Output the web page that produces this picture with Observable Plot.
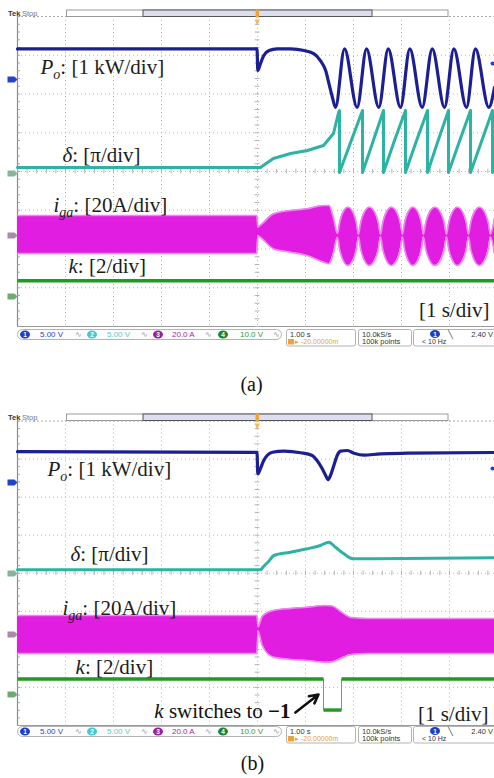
<!DOCTYPE html>
<html>
<head>
<meta charset="utf-8">
<script src="https://cdn.jsdelivr.net/npm/d3@7"></script>
<script src="https://cdn.jsdelivr.net/npm/@observablehq/plot@0.6"></script>
<style>
html,body{margin:0;padding:0;background:#fff;}
#root{position:relative;width:494px;height:778px;overflow:hidden;background:#fff;}
#root svg{position:absolute;left:0;}
</style>
</head>
<body>
<div id="root"></div>
<script>
// ================= DATA =================
// time in seconds (1 s/div), trigger at t = 0
const timeDomain = [-5, 4.9375];
// scope vertical scales (units per division)
const channelScale = {p: 1, d: 1, i: 20, k: 2.45};

// ---------- panel (a) ----------
// P_o  [kW]
const poA = [
 [-5,0.79],[-0.01,0.79],[0.006,0.232],[0.06,0.405],[0.13,0.62],[0.24,0.749],[0.41,0.792],[0.69,0.792],
 [0.97,0.749],[1.18,0.663],[1.31,0.489],[1.42,0.232],[1.49,-0.111],[1.56,-0.457],[1.625,-0.72],
 [1.8125,0.79],[2.076,-0.72],[2.271,0.79],[2.527,-0.72],[2.723,0.79],[2.979,-0.72],[3.173,0.79],
 [3.431,-0.72],[3.64,0.79],[3.896,-0.72],[4.09,0.79],[4.354,-0.72],[4.54,0.79],[4.819,-0.72],[4.9375,-0.2]
];
// delta [pi]
const deltaA = [
 [-5,0.155],[0.06,0.155],[0.33,0.387],[0.69,0.516],[1.04,0.594],[1.375,0.723],[1.583,1.033],[1.69,1.578],[1.708,1.626],
 [1.708,0.026],[1.95,0.84],[2.188,1.626],[2.188,0.026],[2.41,0.84],[2.625,1.626],[2.625,0.026],[2.85,0.84],
 [3.083,1.626],[3.083,0.026],[3.31,0.84],[3.542,1.626],[3.542,0.026],[3.76,0.84],[3.979,1.626],[3.979,0.026],
 [4.21,0.84],[4.438,1.626],[4.438,0.026],[4.67,0.84],[4.896,1.626],[4.896,0.026],[4.9375,0.15]
];
// i_ga envelope [t, upper A, lower A]
const igaA = [
 [-5,10.3,-9.3],[-0.01,10.3,-9.3],[0.006,4.3,0],[0.06,5.2,-0.9],[0.34,11.2,-6.9],[0.69,12.9,-8.6],[1.035,13.8,-10.3],
 [1.38,15.5,-13.8],[1.49,15.5,-14.6],[1.58,9.4,-9.3],[1.667,1.0,-0.9],
 [1.711,6.6,-7.0],[1.776,11.7,-12.4],[1.886,14.6,-15.5],[1.995,11.7,-12.4],[2.060,6.6,-7.0],[2.104,0.6,-0.6],
 [2.150,6.6,-7.0],[2.219,11.7,-12.4],[2.334,14.6,-15.5],[2.448,11.7,-12.4],[2.517,6.6,-7.0],[2.563,0.6,-0.6],
 [2.609,6.6,-7.0],[2.678,11.7,-12.4],[2.792,14.6,-15.5],[2.907,11.7,-12.4],[2.975,6.6,-7.0],[3.021,0.6,-0.6],
 [3.065,6.6,-7.0],[3.130,11.7,-12.4],[3.240,14.6,-15.5],[3.349,11.7,-12.4],[3.414,6.6,-7.0],[3.458,0.6,-0.6],
 [3.506,6.6,-7.0],[3.578,11.7,-12.4],[3.698,14.6,-15.5],[3.818,11.7,-12.4],[3.890,6.6,-7.0],[3.938,0.6,-0.6],
 [3.984,6.6,-7.0],[4.053,11.7,-12.4],[4.167,14.6,-15.5],[4.282,11.7,-12.4],[4.350,6.6,-7.0],[4.396,0.6,-0.6],
 [4.442,6.6,-7.0],[4.511,11.7,-12.4],[4.625,14.6,-15.5],[4.740,11.7,-12.4],[4.808,6.6,-7.0],[4.854,0.6,-0.6],
 [4.9375,9.0,-9.5]
];
// k
const kA = [[-5,1],[4.9375,1]];

// ---------- panel (b) ----------
const poB = [
 [-5,0.81],[-0.01,0.79],[0.006,0.229],[0.06,0.36],[0.13,0.578],[0.2,0.71],[0.31,0.796],[0.55,0.823],[0.9,0.781],
 [1.14,0.71],[1.24,0.578],[1.35,0.36],[1.42,0.184],[1.47,0.071],[1.52,0.184],[1.59,0.447],[1.66,0.71],[1.73,0.823],
 [1.87,0.841],[2.01,0.77],[2.22,0.718],[2.56,0.754],[3.12,0.77],[4.9375,0.789]
];
const deltaB = [
 [-5,0.098],[0.06,0.10],[0.125,0.184],[0.23,0.316],[0.34,0.473],[0.69,0.560],[1.035,0.649],[1.31,0.736],
 [1.485,0.823],[1.625,0.691],[1.8,0.518],[2.0,0.387],[2.42,0.387],[4.9375,0.413]
];
const igaB = [
 [-5,10.0,-10.0],[-0.01,10.0,-10.0],[0.01,4.0,2.0],[0.1,9.5,-5.8],[0.33,12.6,-11.9],[0.7,13.7,-13.1],[1.04,14.3,-13.7],
 [1.4,15.2,-14.6],[1.55,15.0,-14.4],[1.73,12.1,-12.6],[1.95,8.9,-10.5],[2.3,8.4,-10.0],[4.9375,8.4,-10.0]
];
const kB = [[-5,1],[1.375,1],[1.375,-1],[1.75,-1],[1.75,1],[4.9375,1]];

// channel ground markers (divisions from screen centre) and trigger-level marker (div above ch1)
const channelsA = {p: 2.374, d: -0.052, i: -1.652, k: -3.226, trig: 0.41};
const channelsB = {p: 2.384, d: -0.007, i: -1.609, k: -3.186, trig: 0.37};

// trace labels
const labelsA = [
 {t:-4.521, y:2.529, s:"Po: [1 kW/div]"},
 {t:-4.0625, y:0.258, s:"δ: [π/div]"},
 {t:-4.25, y:-1.058, s:"iga: [20A/div]"},
 {t:-3.9375, y:-2.632, s:"k: [2/div]"}
];
const labelsB = [
 {t:-4.375, y:2.542, s:"Po: [1 kW/div]"},
 {t:-3.896, y:0.309, s:"δ: [π/div]"},
 {t:-4.0625, y:-1.084, s:"iga: [20A/div]"},
 {t:-3.79, y:-2.634, s:"k: [2/div]"}
];
const scaleLabelA = [{t:4.833, y:-3.742, s:"[1 s/div]"}];
const scaleLabelB = [{t:4.8125, y:-3.869, s:"[1 s/div]"}];
const noteB = [{t:0.6875, y:-3.816, s:"k switches to −1"}];
const arrowB = [{t1:0.79, y1:-3.659, t2:1.27, y2:-3.186}];

const statusChannels = [
 {n:"1", v:"5.00 V", chip:"#1c3fc8", col:"#2b48c4"},
 {n:"2", v:"5.00 V", chip:"#43c8d0", col:"#62cccc"},
 {n:"3", v:"20.0 A", chip:"#9c1c9c", col:"#a52ba2"},
 {n:"4", v:"10.0 V", chip:"#14893a", col:"#3a9a3a"}
];
const statusInfo = {timebase:"1.00 s", delay:"-20.00000m", rate:"10.0kS/s", points:"100k points", trig:"2.40 V", freq:"< 10 Hz"};

// ================= DRAWING =================
const SERIF = '"Liberation Serif", "Times New Roman", Times, "DejaVu Serif", serif';
const gridT = d3.range(-4, 5);
const gridY = d3.range(-3, 4);
const minorT = d3.range(-5, 4.95, 0.2);
const minorY = d3.range(-4, 4.01, 0.2);
const tabSymbol = {draw(ctx){ctx.moveTo(-5,-3);ctx.lineTo(2,-3);ctx.lineTo(5,0);ctx.lineTo(2,3);ctx.lineTo(-5,3);ctx.closePath();}};

function panel(cfg) {
  const ch = cfg.ch, S = channelScale;
  const kSegs = d3.pairs(cfg.k);
  const kFlat = kSegs.filter(([a,b]) => a[1] === b[1]);
  const kEdge = kSegs.filter(([a,b]) => a[1] !== b[1]);
  const markers = [
    {y: ch.p, c: "#2343c9"}, {y: ch.d, c: "#88b49c"}, {y: ch.i, c: "#a98aa9"}, {y: ch.k, c: "#72a872"}
  ];
  const marks = [
    Plot.ruleX(gridT, {stroke:"#b9b9b9", strokeDasharray:"1,3"}),
    Plot.ruleY(gridY, {stroke:"#b9b9b9", strokeDasharray:"1,3"}),
    Plot.ruleY([4], {stroke:"#a8a8a8", strokeDasharray:"2,2"}),
    Plot.ruleY([-4], {stroke:"#9a9a9a"}),
    Plot.ruleX([-5], {stroke:"#8a8a8a", strokeWidth:1.2}),
    Plot.ruleX(minorT, {y1:-0.06, y2:0.06, stroke:"#b4b4b4"}),
    Plot.ruleY(minorY, {x1:-0.05, x2:0.05, stroke:"#b4b4b4"}),
    Plot.ruleY(minorY, {x1:-5, x2:-4.94, stroke:"#a0a0a0"}),
    // i_ga envelope
    Plot.areaY(cfg.iga, {x: d=>d[0], y1: d=>ch.i + d[2]/S.i, y2: d=>ch.i + d[1]/S.i, curve:"monotone-x", fill:"#e01de0"}),
    Plot.line(cfg.iga, {x: d=>d[0], y: d=>ch.i + d[1]/S.i, curve:"monotone-x", stroke:"#ee86ee", strokeWidth:1.6}),
    Plot.line(cfg.iga, {x: d=>d[0], y: d=>ch.i + d[2]/S.i, curve:"monotone-x", stroke:"#ee86ee", strokeWidth:1.6}),
    // k
    Plot.link(kEdge, {x1: s=>s[0][0], y1: s=>ch.k + s[0][1]/S.k, x2: s=>s[1][0], y2: s=>ch.k + s[1][1]/S.k, stroke:"#8c8c8c", strokeWidth:1}),
    Plot.link(kFlat, {x1: s=>s[0][0], y1: s=>ch.k + s[0][1]/S.k, x2: s=>s[1][0], y2: s=>ch.k + s[1][1]/S.k, stroke:"#1f9a22", strokeWidth:3.4}),
    // delta
    Plot.line(cfg.delta, {x: d=>d[0], y: d=>ch.d + d[1]/S.d, curve: cfg.deltaCurve, stroke:"#2db3a3", strokeWidth:3}),
    // P_o
    Plot.line(cfg.po, {x: d=>d[0], y: d=>ch.p + d[1]/S.p, curve:"monotone-x", stroke:"#1c1f93", strokeWidth:3.2}),
    // markers
    Plot.dot(markers, {x: -5, y: "y", dx: -5, symbol: tabSymbol, fill: "c", stroke: "none"}),
    Plot.dot([ch.trig], {x: 4.896, y: d=>ch.p + d, r: 2, fill: "#2343c9"}),
    // labels
    Plot.text(cfg.labels, {x:"t", y:"y", text:"s", textAnchor:"start", lineAnchor:"bottom", fontSize:21, fontFamily:SERIF, fill:"#1c1c1c"}),
    Plot.text(cfg.scaleLabel, {x:"t", y:"y", text:"s", textAnchor:"end", lineAnchor:"bottom", fontSize:21, fontFamily:SERIF, fill:"#1c1c1c"})
  ];
  if (cfg.note) marks.push(Plot.text(cfg.note, {x:"t", y:"y", text:"s", textAnchor:"end", lineAnchor:"bottom", fontSize:21, fontFamily:SERIF, fill:"#111"}));
  if (cfg.arrow) marks.push(Plot.arrow(cfg.arrow, {x1:"t1", y1:"y1", x2:"t2", y2:"y2", stroke:"#111", strokeWidth:2.6, headLength:9, headAngle:55}));
  const svg = Plot.plot({
    width: 494, height: cfg.height,
    marginLeft: 17, marginRight: 0, marginTop: cfg.mt, marginBottom: 2,
    x: {domain: timeDomain, axis: null},
    y: {domain: [-4, 4], axis: null},
    color: {type: "identity"},
    style: {background: "transparent", overflow: "visible"},
    marks
  });
  svg.style.top = cfg.top + "px";
  richText(svg);
  return svg;
}

const rich = {
  "Po: [1 kW/div]": [["P","i"],["o","is"],[": [1 kW/div]",""]],
  "δ: [π/div]": [["δ","i"],[": [π/div]",""]],
  "iga: [20A/div]": [["i","i"],["ga","is"],[": [20A/div]",""]],
  "k: [2/div]": [["k","i"],[": [2/div]",""]],
  "k switches to −1": [["k","i"],[" switches to ",""],["−1","b"]]
};
function richText(svg) {
  d3.select(svg).selectAll("text").each(function() {
    const segs = rich[this.textContent];
    if (!segs) return;
    const t = d3.select(this);
    t.text(null).style("font-family", SERIF);
    let shifted = false;
    segs.forEach(([s, f]) => {
      const sp = t.append("tspan").text(s).style("font-family", SERIF);
      if (f.includes("i")) sp.attr("font-style", "italic");
      if (f.includes("b")) sp.attr("font-weight", "bold");
      if (f.includes("s")) { sp.attr("font-size", 14).attr("dy", 5); shifted = true; }
      else if (shifted) { sp.attr("dy", -5); shifted = false; }
    });
  });
  d3.select(svg).selectAll("text").style("font-family", SERIF);
}

const root = document.getElementById("root");
root.appendChild(panel({po: poA, delta: deltaA, deltaCurve: "linear", iga: igaA, k: kA, ch: channelsA,
  labels: labelsA, scaleLabel: scaleLabelA, top: 0, mt: 16, height: 328}));
root.appendChild(panel({po: poB, delta: deltaB, deltaCurve: "monotone-x", iga: igaB, k: kB, ch: channelsB,
  labels: labelsB, scaleLabel: scaleLabelB, note: noteB, arrow: arrowB, top: 404, mt: 16.5, height: 323}));

// ---------- scope chrome (top record bar, status bar, captions) ----------
const ov = d3.select(root).append("svg").attr("width", 494).attr("height", 778).style("top", "0px")
  .style("pointer-events", "none").style("font-family", '"Liberation Sans", Arial, sans-serif');

function topBar(y) {
  const g = ov.append("g");
  g.append("text").attr("x", 8).attr("y", y + 6.5).attr("font-size", 7.5).attr("font-weight", "bold").attr("fill", "#333").text("Tek");
  g.append("text").attr("x", 22).attr("y", y + 6.5).attr("font-size", 7.5).attr("fill", "#777").text("Stop");
  g.append("rect").attr("x", 66.5).attr("y", y + 0.5).attr("width", 381.5).attr("height", 6.5).attr("fill", "#fff").attr("stroke", "#9a9a9a");
  g.append("rect").attr("x", 143).attr("y", y + 0.5).attr("width", 229).attr("height", 6.5).attr("fill", "#dcdef0").attr("stroke", "#555");
  g.append("rect").attr("x", 255.5).attr("y", y).attr("width", 3.5).attr("height", 8).attr("fill", "#f0a23a");
  g.append("path").attr("d", `M254.5,${y + 10}L260,${y + 10}L257.2,${y + 16}Z`).attr("fill", "#f3b85e");
}
function statusBar(y) {
  const g = ov.append("g");
  g.append("rect").attr("x", 17.5).attr("y", y + 0.5).attr("width", 264).attr("height", 10).attr("rx", 5).attr("fill", "#fcfcfc").attr("stroke", "#b3b3b3");
  const chipX = [20, 87, 153, 218], valX = [40, 107, 172, 240], symX = [75, 141, 205, 273];
  statusChannels.forEach((c, i) => {
    g.append("ellipse").attr("cx", chipX[i] + 5).attr("cy", y + 5.5).attr("rx", 5).attr("ry", 4).attr("fill", c.chip);
    g.append("text").attr("x", chipX[i] + 5).attr("y", y + 8).attr("font-size", 6.5).attr("font-weight", "bold").attr("fill", "#fff").attr("text-anchor", "middle").text(c.n);
    g.append("text").attr("x", valX[i]).attr("y", y + 8.3).attr("font-size", 8).attr("fill", c.col).text(c.v);
    g.append("text").attr("x", symX[i]).attr("y", y + 8.3).attr("font-size", 8).attr("fill", "#999").text("∿");
  });
  g.append("rect").attr("x", 286.5).attr("y", y + 0.5).attr("width", 69).attr("height", 16.5).attr("rx", 2).attr("fill", "none").attr("stroke", "#b3b3b3");
  g.append("text").attr("x", 290).attr("y", y + 7.5).attr("font-size", 7.5).attr("fill", "#333").text(statusInfo.timebase);
  g.append("rect").attr("x", 288).attr("y", y + 10).attr("width", 6).attr("height", 5.5).attr("fill", "#f0a23a");
  g.append("text").attr("x", 295).attr("y", y + 15.3).attr("font-size", 7).attr("fill", "#e6a040").text("▸ " + statusInfo.delay);
  g.append("rect").attr("x", 358.5).attr("y", y + 0.5).attr("width", 53).attr("height", 16.5).attr("rx", 2).attr("fill", "none").attr("stroke", "#b3b3b3");
  g.append("text").attr("x", 362).attr("y", y + 7.5).attr("font-size", 7.5).attr("fill", "#333").text(statusInfo.rate);
  g.append("text").attr("x", 362).attr("y", y + 15.3).attr("font-size", 7.5).attr("fill", "#333").text(statusInfo.points);
  g.append("rect").attr("x", 413.5).attr("y", y + 0.5).attr("width", 90).attr("height", 16.5).attr("rx", 2).attr("fill", "none").attr("stroke", "#b3b3b3");
  g.append("ellipse").attr("cx", 435).attr("cy", y + 5).attr("rx", 5).attr("ry", 4).attr("fill", "#1c3fc8");
  g.append("text").attr("x", 435).attr("y", y + 7.5).attr("font-size", 6.5).attr("font-weight", "bold").attr("fill", "#fff").attr("text-anchor", "middle").text("1");
  g.append("text").attr("x", 448).attr("y", y + 7.5).attr("font-size", 8).attr("fill", "#444").text("╲");
  g.append("text").attr("x", 493).attr("y", y + 7.5).attr("font-size", 7.5).attr("fill", "#333").attr("text-anchor", "end").text(statusInfo.trig);
  g.append("text").attr("x", 422).attr("y", y + 15.3).attr("font-size", 7).attr("fill", "#333").text(statusInfo.freq);
}
topBar(9.5);
topBar(413.5);
statusBar(329);
statusBar(726);
ov.append("text").attr("x", 251.5).attr("y", 390.5).attr("text-anchor", "middle").style("font-family", SERIF).attr("font-size", 20).attr("fill", "#111").text("(a)");
ov.append("text").attr("x", 252.5).attr("y", 770).attr("text-anchor", "middle").style("font-family", SERIF).attr("font-size", 20).attr("fill", "#111").text("(b)");
</script>
</body>
</html>
